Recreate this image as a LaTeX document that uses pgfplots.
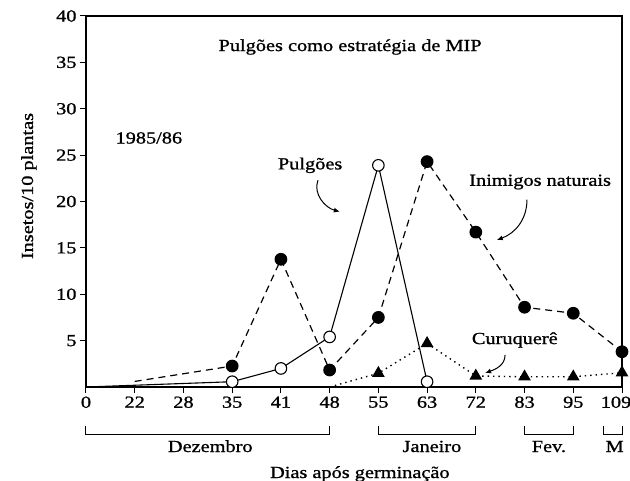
\documentclass[border=0pt]{standalone}
\usepackage{fontspec}
\setmainfont{Liberation Serif}[FakeStretch=1.2,FakeBold=1]
\usepackage{pgfplots}
\pgfplotsset{compat=1.18}
\usetikzlibrary{arrows.meta}
\begin{document}
\begin{tikzpicture}[font=\fontsize{17}{20}\selectfont]
\begin{axis}[
  at={(0,0)}, anchor=south west,
  width=536bp, height=371bp, scale only axis,
  xmin=0, xmax=11, ymin=0, ymax=40,
  xtick={0,...,11}, xticklabels={0,22,28,35,41,48,55,63,72,83,95,{\hspace*{-12bp}109}},
  ytick={5,10,...,40},
  tick align=outside, xtick pos=bottom, ytick pos=left,
  major tick length=6bp,
  tick style={black, line width=1bp},
  axis line style={line width=1.2bp},
  /pgf/number format/assume math mode=true,
  ticklabel style={font=\fontsize{17}{20}\selectfont},
  clip=false,
]
% Inimigos naturais
\addplot[black, line width=1.2bp, dash pattern=on 7bp off 5bp, mark=*, mark size=5.8pt,
  mark options={solid, fill=black}, mark indices={2,...,10}]
  coordinates {(1,0.6)(3,2.26)(4,13.77)(5,1.83)(6,7.5)(7,24.3)(8,16.7)(9,8.6)(10,7.95)(11,3.8)};
% Pulgoes
\addplot[black, line width=1.1bp, mark=*, mark size=5.8pt,
  mark options={solid, fill=white, draw=black}, mark indices={2,...,6}]
  coordinates {(0,0)(3,0.57)(4,2.0)(5,5.4)(6,23.9)(7,0.57)};
% Curuquere
\addplot[black, line width=1.4bp, dash pattern=on 1.4bp off 4bp, mark=triangle*, mark size=6pt,
  mark options={solid, fill=black}, mark indices={2,...,7}]
  coordinates {(5,0)(6,1.48)(7,4.7)(8,1.19)(9,1.1)(10,1.1)(11,1.54)};

\node at (axis cs:5.42,36.66) {Pulgões como estratégia de MIP};
\node at (axis cs:1.29,26.85) {1985/86};
\node at (axis cs:4.6,23.9) {Pulgões};
\draw[-{Latex[length=6bp,width=5bp]}, line width=1bp] (axis cs:4.76,22.3) to[out=-110,in=165] (axis cs:5.21,18.9);
\node at (axis cs:9.32,22.1) {Inimigos naturais};
\draw[-{Latex[length=6bp,width=5bp]}, line width=1bp] (axis cs:9.05,20.2) to[out=-90,in=20] (axis cs:8.43,15.85);
\node at (axis cs:8.8,5.07) {Curuquerê};
\draw[-{Latex[length=6bp,width=5bp]}, line width=1bp] (axis cs:8.6,3.45) to[out=-90,in=20] (axis cs:8.19,1.5);

% month brackets
\draw[line width=1bp] ([yshift=-39bp]axis cs:0,0) -- ([yshift=-47bp]axis cs:0,0) -| ([yshift=-39bp]axis cs:5,0);
\draw[line width=1bp] ([yshift=-39bp]axis cs:6,0) -- ([yshift=-47bp]axis cs:6,0) -| ([yshift=-39bp]axis cs:8,0);
\draw[line width=1bp] ([yshift=-39bp]axis cs:9,0) -- ([yshift=-47bp]axis cs:9,0) -| ([yshift=-39bp]axis cs:10,0);
\draw[line width=1bp] ([yshift=-39bp]axis cs:10.62,0) -- ([yshift=-47bp]axis cs:10.62,0) -| ([yshift=-39bp]axis cs:11,0);
\node[anchor=base] at ([yshift=-65bp]axis cs:2.55,0) {Dezembro};
\node[anchor=base] at ([yshift=-65bp]axis cs:7.1,0) {Janeiro};
\node[anchor=base] at ([yshift=-65bp]axis cs:9.5,0) {Fev.};
\node[anchor=base] at ([yshift=-65bp]axis cs:10.85,0) {M};
\node[anchor=base] at ([yshift=-91bp]axis cs:5.62,0) {Dias após germinação};
\node[anchor=base, rotate=90] at ([xshift=-53bp]axis cs:0,21.67) {Insetos/10 plantas};
\end{axis}
\pgfresetboundingbox
\path (-86bp,-94bp) rectangle (544bp,387bp);
\end{tikzpicture}
\end{document}
